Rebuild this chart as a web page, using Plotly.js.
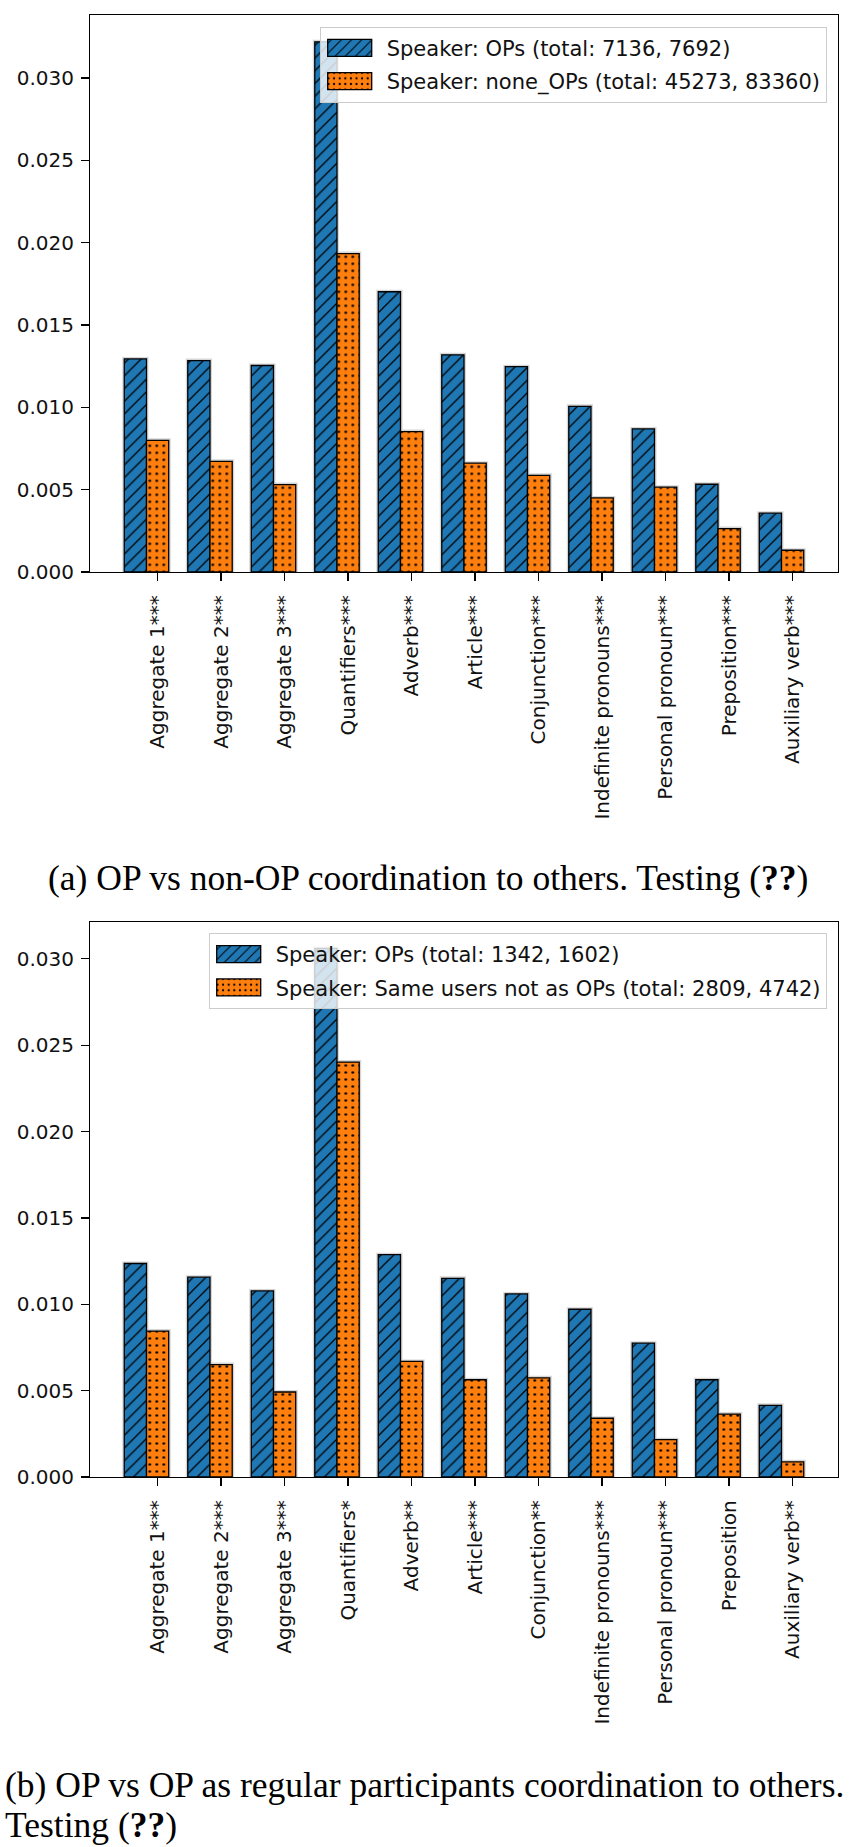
<!DOCTYPE html>
<html>
<head>
<meta charset="utf-8">
<script src="https://cdn.plot.ly/plotly-3.0.1.min.js"></script>
<style>
  html, body { margin: 0; padding: 0; background: #fff; overflow: hidden; }
  #fig { width: 856px; height: 1847px; }
</style>
</head>
<body>
<div id="fig"></div>
<script>
// Panel (a): OP vs non-OP
const categoriesA = ['Aggregate 1***', 'Aggregate 2***', 'Aggregate 3***', 'Quantifiers***', 'Adverb***',
  'Article***', 'Conjunction***', 'Indefinite pronouns***', 'Personal pronoun***', 'Preposition***', 'Auxiliary verb***'];
const opsA = [0.01294, 0.01284, 0.01254, 0.0322, 0.01702, 0.01319, 0.01247, 0.01006, 0.00869, 0.00533, 0.00357];
const noneOpsA = [0.0080, 0.00672, 0.00531, 0.01934, 0.00853, 0.00661, 0.00587, 0.0045, 0.00515, 0.00264, 0.00132];
const legendA = ['Speaker: OPs (total: 7136, 7692)', 'Speaker: none_OPs (total: 45273, 83360)'];

// Panel (b): OP vs same users as regular participants
const categoriesB = ['Aggregate 1***', 'Aggregate 2***', 'Aggregate 3***', 'Quantifiers*', 'Adverb**',
  'Article***', 'Conjunction**', 'Indefinite pronouns***', 'Personal pronoun***', 'Preposition', 'Auxiliary verb**'];
const opsB = [0.01236, 0.01157, 0.01077, 0.0306, 0.01287, 0.0115, 0.0106, 0.00971, 0.00775, 0.00563, 0.00415];
const sameUsersB = [0.00845, 0.00651, 0.00492, 0.02402, 0.00669, 0.00563, 0.00574, 0.0034, 0.00216, 0.00364, 0.00088];
const legendB = ['Speaker: OPs (total: 1342, 1602)', 'Speaker: Same users not as OPs (total: 2809, 4742)'];

const captionA = '(a) OP vs non-OP coordination to others. Testing (<b>??</b>)';
const captionB = ['(b) OP vs OP as regular participants coordination to others.', 'Testing (<b>??</b>)'];

// ---- page geometry (pixels) ----
const W = 856, H = 1847;
const px = v => v / W;
const py = v => 1 - v / H;
const BAR_W = 0.35;
const BLUE = '#1f77b4', ORANGE = '#ff7f0e';
const SANS = 'DejaVu Sans';
const SERIF = 'Liberation Serif';

function panelTraces(cats, first, second, names, xa, ya, legendId) {
  const idx = cats.map((_, i) => i);
  const xFirst = idx.map(i => i - BAR_W);
  const shadow = (x, y) => ({
    type: 'bar', x: x, y: y, width: BAR_W, xaxis: xa, yaxis: ya,
    marker: { color: 'rgba(0,0,0,0)', line: { color: '#d6d6d6', width: 4 } },
    showlegend: false, hoverinfo: 'skip'
  });
  const bars = (x, y, name, color, shape, size, solidity) => ({
    type: 'bar', x: x, y: y, width: BAR_W, name: name, xaxis: xa, yaxis: ya,
    legend: legendId, legendgroup: legendId + name,
    marker: {
      color: color,
      line: { color: '#000', width: 1.3 },
      pattern: { shape: shape, fgcolor: '#000', bgcolor: color, size: size, solidity: solidity, fillmode: 'replace' }
    }
  });
  return [
    shadow(xFirst, first), shadow(idx, second),
    bars(xFirst, first, names[0], BLUE, '/', 9, 0.14),
    bars(idx, second, names[1], ORANGE, '.', 7, 0.12)
  ];
}

const traces = [
  ...panelTraces(categoriesA, opsA, noneOpsA, legendA, 'x', 'y', 'legend'),
  ...panelTraces(categoriesB, opsB, sameUsersB, legendB, 'x2', 'y2', 'legend2')
];

const axisCommon = {
  showline: true, mirror: true, linecolor: '#000', linewidth: 1.3,
  ticks: 'outside', ticklen: 8, tickwidth: 1.3, tickcolor: '#000',
  showgrid: false, zeroline: false,
  tickfont: { family: SANS, size: 20, color: '#111' }
};

function xAxis(cats, anchor) {
  const n = cats.length;
  const lo = -BAR_W * 1.5, hi = (n - 1) + BAR_W / 2;
  const pad = (hi - lo) * 0.05;
  return Object.assign({}, axisCommon, {
    anchor: anchor, domain: [px(90.3), px(837.7)],
    range: [lo - pad, hi + pad],
    tickmode: 'array', tickvals: cats.map((_, i) => i), ticktext: cats, tickangle: -90,
    ticklabelstandoff: 6
  });
}
function yAxis(values, anchor, top, bottom) {
  const maxV = Math.max(...values);
  return Object.assign({}, axisCommon, {
    anchor: anchor, domain: [py(bottom), py(top)],
    range: [0, maxV * 1.05],
    tickmode: 'array', tickvals: [0, 0.005, 0.01, 0.015, 0.02, 0.025, 0.03], tickformat: '.3f',
    ticklabelstandoff: 3
  });
}

const legendCommon = {
  xanchor: 'right', yanchor: 'top',
  bgcolor: 'rgba(255,255,255,0.8)', bordercolor: '#cccccc', borderwidth: 1,
  font: { family: SANS, size: 21, color: '#111' },
  itemwidth: 56, tracegroupgap: 3,
  itemclick: false, itemdoubleclick: false
};

const layout = {
  width: W, height: H,
  margin: { l: 0, r: 0, t: 0, b: 0 },
  paper_bgcolor: '#fff', plot_bgcolor: '#fff',
  barmode: 'overlay', hovermode: false,
  xaxis: xAxis(categoriesA, 'y'),
  yaxis: yAxis(opsA.concat(noneOpsA), 'x', 15.3, 572),
  xaxis2: xAxis(categoriesB, 'y2'),
  yaxis2: yAxis(opsB.concat(sameUsersB), 'x2', 922, 1477),
  legend: Object.assign({}, legendCommon, { x: px(826.7), y: py(26.7) }),
  legend2: Object.assign({}, legendCommon, { x: px(826.7), y: py(933) }),
  annotations: [
    { text: captionA, xref: 'paper', yref: 'paper', x: 0.5, y: py(878), xanchor: 'center', yanchor: 'middle',
      showarrow: false, font: { family: SERIF, size: 35.5, color: '#000' } },
    { text: captionB[0], xref: 'paper', yref: 'paper', x: px(3), y: py(1785), xanchor: 'left', yanchor: 'middle',
      showarrow: false, font: { family: SERIF, size: 35.5, color: '#000' } },
    { text: captionB[1], xref: 'paper', yref: 'paper', x: px(3), y: py(1825), xanchor: 'left', yanchor: 'middle',
      showarrow: false, font: { family: SERIF, size: 35.5, color: '#000' } }
  ]
};

// Wide legend swatches (44 x 17) ending 15px before the label; the same
// geometry applies to every legend, including ones drawn after first paint.
const gd = document.getElementById('fig');
let swatchD = null;
function applySwatches() {
  if (!swatchD) {
    const text = gd.querySelector('text.legendtext');
    const item = text && text.closest('g.traces');
    const sw = item && item.querySelector('g.legendpoints path');
    if (!sw) return;
    const tb = text.getBoundingClientRect();
    const sb = sw.getBoundingClientRect();
    if (!tb.width || !sb.width) return;
    const c = (tb.left - 15 - 22) - (sb.left + sb.width / 2);
    swatchD = `M${c + 22},8.5H${c - 22}V-8.5H${c + 22}Z`;
  }
  gd.querySelectorAll('g.legendpoints path').forEach(p => {
    if (p.getAttribute('d') !== swatchD) p.setAttribute('d', swatchD);
  });
}

Plotly.newPlot(gd, traces, layout, { staticPlot: true, displayModeBar: false }).then(() => {
  applySwatches();
  new MutationObserver(applySwatches).observe(gd, { childList: true, subtree: true });
  requestAnimationFrame(applySwatches);
  setTimeout(applySwatches, 30);
});
</script>
</body>
</html>
